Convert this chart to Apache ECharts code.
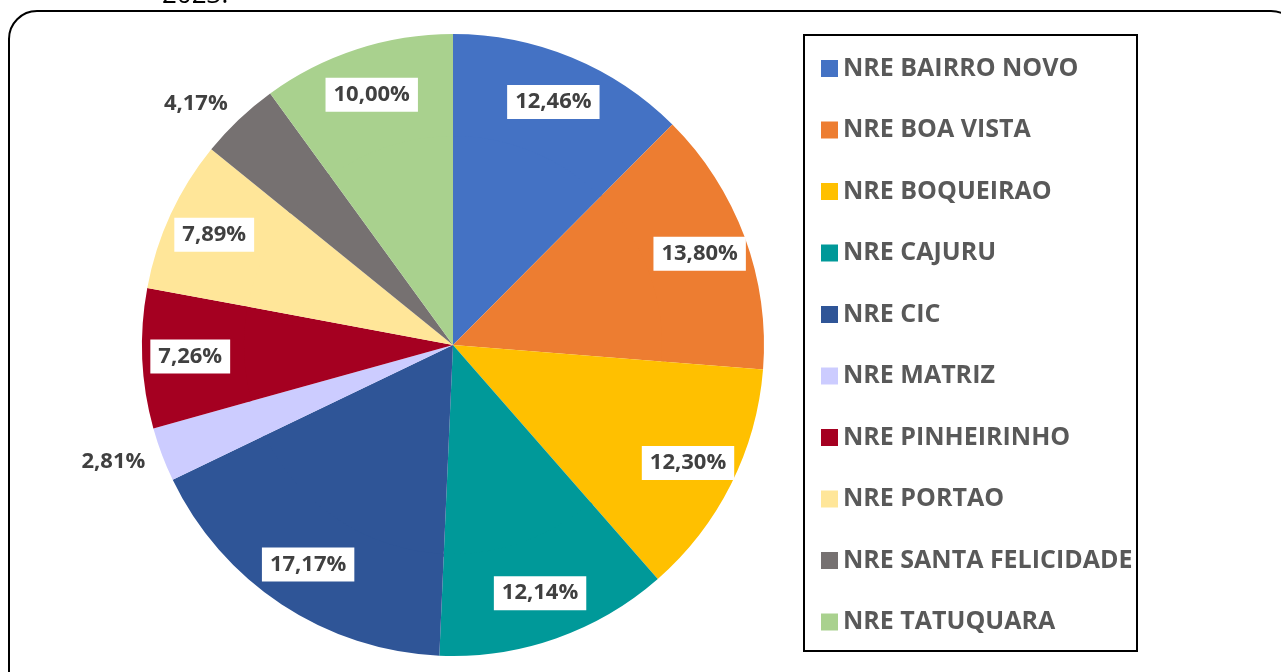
<!DOCTYPE html>
<html><head><meta charset="utf-8">
<script src="https://cdn.jsdelivr.net/npm/echarts@6/dist/echarts.min.js"></script>
<style>html,body{margin:0;padding:0;background:#fff}#c{width:1281px;height:672px}</style>
</head><body><div id="c"></div>
<script>
const categories = ['NRE BAIRRO NOVO','NRE BOA VISTA','NRE BOQUEIRAO','NRE CAJURU','NRE CIC','NRE MATRIZ','NRE PINHEIRINHO','NRE PORTAO','NRE SANTA FELICIDADE','NRE TATUQUARA'];
const values = [12.46, 13.80, 12.30, 12.14, 17.17, 2.81, 7.26, 7.89, 4.17, 10.00];
const colors = ['#4472C4','#ED7D31','#FFC000','#009999','#2F5597','#CCCCFF','#A50021','#FFE699','#767171','#A9D18E'];
const outsideLabels = ['NRE MATRIZ','NRE SANTA FELICIDADE'];

const fmt = v => v.toFixed(2).replace('.', ',') + '%';
const ringData = categories.map((name, i) => {
  const d = { name, value: values[i], itemStyle: { color: colors[i] } };
  if (outsideLabels.includes(name)) {
    d.label = { position: 'outside', backgroundColor: 'transparent', padding: 0, distanceToLabelLine: -4 };
    d.labelLine = { show: false, length: 22, length2: 0 };
  }
  return d;
});
const coreData = categories.map((name, i) => ({ name, value: values[i], itemStyle: { color: colors[i] } }));

const chart = echarts.init(document.getElementById('c'));
chart.setOption({
  animation: false,
  color: colors,
  legend: {
    orient: 'vertical',
    left: 821, top: 56,
    itemWidth: 17, itemHeight: 17,
    itemGap: 36.5,
    icon: 'rect',
    data: categories,
    textStyle: { fontFamily: 'Open Sans', fontWeight: 'bold', fontSize: 25, color: '#595959', lineHeight: 25 },
    padding: 0
  },
  graphic: [
    { type: 'rect', shape: { x: 9, y: 11, width: 1290, height: 690, r: 28 }, style: { fill: 'none', stroke: '#000', lineWidth: 2 }, silent: true, z: 0 },
    { type: 'rect', shape: { x: 804, y: 35, width: 333, height: 616 }, style: { fill: 'none', stroke: '#000', lineWidth: 2 }, silent: true, z: 0 },
    { type: 'text', x: 162, y: 9, style: { text: '2023.', fontFamily: 'Open Sans', fontSize: 26, fill: '#000', verticalAlign: 'bottom' }, silent: true }
  ],
  series: [
    {
      type: 'pie', center: [453, 345], radius: [0, 212],
      startAngle: 90, clockwise: true, silent: true,
      label: { show: false }, labelLine: { show: false },
      data: coreData, z: 1
    },
    {
      type: 'pie', center: [453, 345], radius: [209, 311],
      startAngle: 90, clockwise: true, silent: true,
      label: {
        show: true, position: 'inside',
        formatter: p => fmt(p.value),
        fontFamily: 'Open Sans', fontWeight: 'bold', fontSize: 22, color: '#404040',
        backgroundColor: '#fff', padding: [6, 8, 6, 8]
      },
      labelLine: { show: false },
      data: ringData, z: 2
    }
  ]
});
</script></body></html>
